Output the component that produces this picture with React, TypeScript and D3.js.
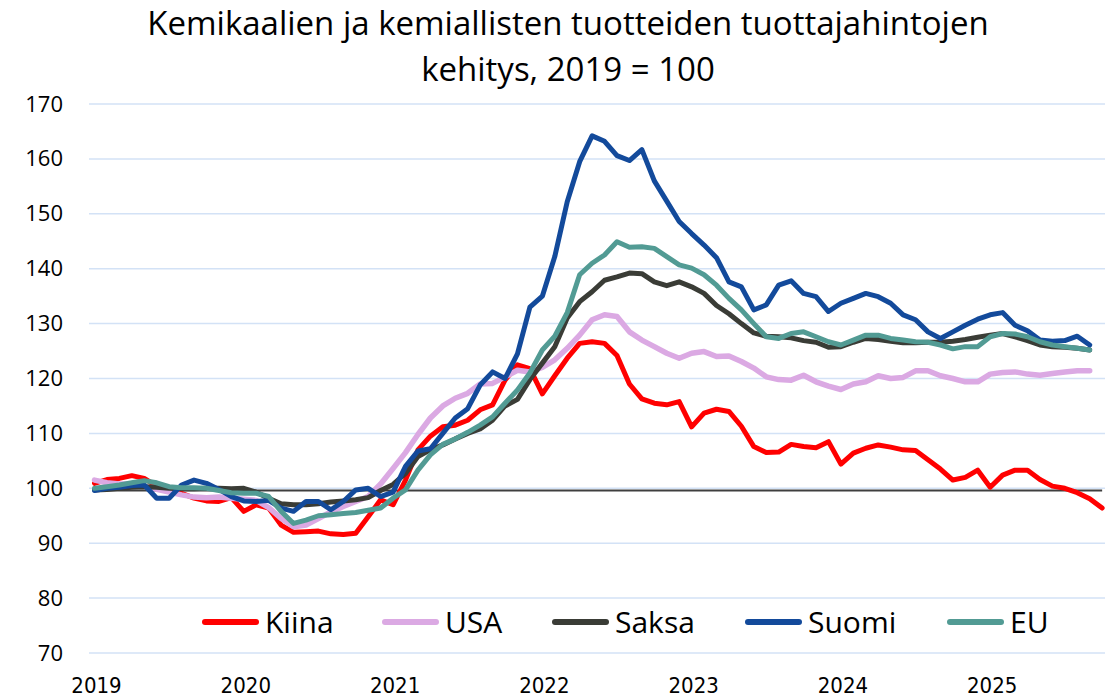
import React, { useEffect, useRef } from 'react';
import * as d3 from 'd3';

const WIDTH = 1114;
const HEIGHT = 699;

const MARGIN = {
  top: 104,
  right: 9,
  bottom: 46,
  left: 89,
};

const TITLE = ['Kemikaalien ja kemiallisten tuotteiden tuottajahintojen', 'kehitys, 2019 = 100'];

const YEARS = ['2019', '2020', '2021', '2022', '2023', '2024', '2025'];
const Y_TICKS = [70, 80, 90, 100, 110, 120, 130, 140, 150, 160, 170];

// kuukausittain, tammikuu 2019 alkaen
const kiina = [
  100.9, 101.6, 101.8, 102.3, 101.8, 100.4, 99.6, 99.1, 98.2, 97.7, 97.6, 98.3,
  95.8, 97.0, 96.4, 93.3, 92.0, 92.1, 92.2, 91.7, 91.6, 91.8, 94.8, 97.9,
  97.0, 101.5, 107.0, 109.5, 111.2, 111.5, 112.4, 114.3, 115.2, 119.7, 122.5, 121.8,
  117.2, 120.5, 123.7, 126.4, 126.7, 126.4, 124.2, 119.0, 116.3, 115.5, 115.2, 115.8,
  111.2, 113.7, 114.4, 114.0, 111.3, 107.6, 106.5, 106.6, 108.0, 107.6, 107.4, 108.5,
  104.4, 106.4, 107.3, 107.9, 107.5, 107.0, 106.9, 105.2, 103.5, 101.5, 102.0, 103.3,
  100.2, 102.4, 103.3, 103.3, 101.6, 100.4, 100.0, 99.2, 98.1, 96.4,
];

const usa = [
  101.5, 101.0, 100.8, 100.8, 100.3, 99.8, 99.3, 98.8, 98.4, 98.3, 98.4, 98.2,
  98.0, 97.8, 96.5, 94.5, 93.0, 93.3, 94.5, 95.7, 96.7, 97.6, 98.5, 100.8,
  103.6, 106.5, 109.8, 112.8, 115.0, 116.4, 117.3, 119.0, 119.1, 120.3, 121.5, 121.2,
  122.0, 123.4, 125.5, 127.9, 130.7, 131.6, 131.3, 128.5, 127.0, 125.8, 124.6, 123.7,
  124.6, 124.9, 124.0, 124.1, 123.1, 121.9, 120.3, 119.8, 119.7, 120.6, 119.4, 118.6,
  118.0, 119.0, 119.4, 120.5, 120.0, 120.2, 121.4, 121.4, 120.5, 120.0, 119.4, 119.4,
  120.8, 121.1, 121.2, 120.8, 120.6, 120.9, 121.2, 121.4, 121.4,
];

const saksa = [
  99.7, 99.8, 100.0, 100.2, 100.3, 100.2, 100.0, 99.9, 99.9, 100.0, 100.0, 99.9,
  100.0, 99.3, 98.2, 97.2, 97.0, 97.0, 97.2, 97.5, 97.7, 97.9, 98.3, 99.6,
  100.7, 102.7, 105.8, 107.0, 107.9, 109.0, 110.0, 110.8, 112.4, 115.0, 116.2, 119.8,
  122.8, 125.8, 131.0, 134.0, 135.8, 137.9, 138.5, 139.2, 139.1, 137.6, 136.9, 137.6,
  136.7, 135.5, 133.3, 131.8, 130.0, 128.3, 127.7, 127.6, 127.4, 126.9, 126.6, 125.7,
  125.8, 126.6, 127.3, 127.1, 126.8, 126.5, 126.5, 126.6, 126.6, 126.8, 127.1, 127.5,
  127.9, 128.2, 127.6, 126.9, 126.1, 125.8, 125.7, 125.5, 125.2,
];

const suomi = [
  99.6, 100.0, 100.2, 100.5, 100.6, 98.2, 98.2, 100.6, 101.5, 100.9, 99.8, 98.5,
  97.7, 97.6, 97.8, 96.4, 95.8, 97.6, 97.6, 96.1, 97.6, 99.7, 100.0, 98.5,
  99.3, 104.0, 106.8, 107.2, 110.0, 112.8, 114.5, 118.8, 121.2, 120.0, 124.5, 133.0,
  135.0, 142.2, 152.2, 159.5, 164.2, 163.2, 160.6, 159.7, 161.7, 156.0, 152.3, 148.6,
  146.4, 144.3, 142.0, 137.6, 136.7, 132.5, 133.4, 137.0, 137.8, 135.5, 134.9, 132.2,
  133.7, 134.6, 135.5, 134.9, 133.7, 131.6, 130.7, 128.5, 127.3, 128.5, 129.7, 130.8,
  131.6, 132.0, 129.7, 128.7, 127.0, 126.8, 126.9, 127.7, 126.1,
];

const eu = [
  100.0, 100.3, 100.6, 101.0, 101.4, 101.0, 100.3, 100.1, 100.1, 100.0, 99.6, 99.2,
  99.1, 99.1, 98.5, 95.8, 93.6, 94.2, 95.0, 95.2, 95.4, 95.6, 96.0, 96.4,
  98.2, 99.7, 103.3, 106.1, 108.0, 109.0, 110.2, 111.5, 113.0, 115.5, 117.9, 121.0,
  125.2, 127.7, 132.0, 138.9, 141.0, 142.5, 144.9, 143.9, 144.0, 143.7, 142.2, 140.7,
  140.1, 138.9, 137.0, 134.6, 132.5, 130.0, 127.6, 127.3, 128.2, 128.5, 127.6, 126.7,
  126.1, 127.0, 127.9, 127.9, 127.3, 127.0, 126.7, 126.6, 126.1, 125.4, 125.8, 125.8,
  127.6, 128.2, 128.1, 127.6, 126.7, 126.1, 125.8, 125.5, 125.2,
];

const BASE_VALUE = 99.6;
const MONTHS = kiina.length;

const SERIES = [
  { name: 'Kiina', values: kiina, color: '#ff0000', width: 5 },
  { name: 'USA', values: usa, color: '#dba9e3', width: 5.5 },
  { name: 'Saksa', values: saksa, color: '#3a3c36', width: 5 },
  { name: 'Suomi', values: suomi, color: '#134a9b', width: 5 },
  { name: 'EU', values: eu, color: '#529b94', width: 5 },
];

const LEGEND_X = [205, 385, 555, 748, 950];

const FONT = '"Open Sans", "Noto Sans", sans-serif';

export default function App() {
  const ref = useRef<SVGSVGElement>(null);

  useEffect(() => {
    if (!ref.current) {
      return;
    }
    const svg = d3.select(ref.current);
    svg.selectAll('*').remove();

    const x = d3.scaleLinear()
      .domain([0, MONTHS - 1])
      .range([94.5, 94.5 + 12.44 * (MONTHS - 1)]);

    const y = d3.scaleLinear()
      .domain([70, 170])
      .range([HEIGHT - MARGIN.bottom, MARGIN.top]);

    // otsikko
    svg.append('g')
      .selectAll('text')
      .data(TITLE)
      .enter()
      .append('text')
      .attr('x', 568)
      .attr('y', (d, i) => 35 + i * 46)
      .attr('text-anchor', 'middle')
      .attr('font-family', FONT)
      .attr('font-size', 33)
      .attr('fill', '#000')
      .text(d => d);

    // ruudukko
    svg.append('g')
      .selectAll('line')
      .data(Y_TICKS)
      .enter()
      .append('line')
      .attr('x1', MARGIN.left)
      .attr('x2', WIDTH - MARGIN.right)
      .attr('y1', d => y(d))
      .attr('y2', d => y(d))
      .attr('stroke', '#d3e2f6')
      .attr('stroke-width', 1.5);

    const yAxis = d3.axisLeft(y)
      .tickValues(Y_TICKS)
      .tickSize(0)
      .tickPadding(0);

    svg.append('g')
      .attr('transform', 'translate(63, 0)')
      .call(yAxis)
      .call(g => g.select('.domain').remove())
      .call(g => g.selectAll('text')
        .attr('font-family', FONT)
        .attr('font-size', 22)
        .attr('fill', '#000'));

    const yearIdx = YEARS.map((d, i) => i * 12);
    const xAxis = d3.axisBottom(x)
      .tickValues(yearIdx)
      .tickFormat((d, i) => YEARS[i])
      .tickSize(0)
      .tickPadding(0);

    svg.append('g')
      .attr('transform', 'translate(1.5, 0)')
      .call(xAxis)
      .call(g => g.select('.domain').remove())
      .call(g => g.selectAll('text')
        .attr('y', 693)
        .attr('dy', null)
        .attr('font-family', '"DejaVu Sans Condensed", "DejaVu Sans", sans-serif')
        .attr('font-stretch', 'condensed')
        .attr('font-size', 22)
        .attr('fill', '#000'));

    const line = d3.line<number>()
      .x((d, i) => x(i))
      .y(d => y(d));

    // 2019 = 100 viiva
    svg.append('path')
      .datum(d3.range(MONTHS).map(() => BASE_VALUE))
      .attr('d', line)
      .attr('fill', 'none')
      .attr('stroke', '#3f3f3f')
      .attr('stroke-width', 2);

    svg.append('g')
      .selectAll('path')
      .data(SERIES)
      .enter()
      .append('path')
      .attr('d', d => line(d.values))
      .attr('fill', 'none')
      .attr('stroke', d => d.color)
      .attr('stroke-width', d => d.width)
      .attr('stroke-linejoin', 'round')
      .attr('stroke-linecap', 'round');

    // selite
    const legend = svg.append('g')
      .selectAll('g')
      .data(SERIES)
      .enter()
      .append('g')
      .attr('transform', (d, i) => `translate(${LEGEND_X[i]}, 622)`);

    legend.append('line')
      .attr('x1', 0)
      .attr('x2', 51)
      .attr('stroke', d => d.color)
      .attr('stroke-width', 6)
      .attr('stroke-linecap', 'round');

    legend.append('text')
      .attr('x', 60)
      .attr('dy', '0.35em')
      .attr('font-family', FONT)
      .attr('font-size', 30)
      .attr('fill', '#000')
      .text(d => d.name);
  }, []);

  return (
    <svg
      ref={ref}
      width={WIDTH}
      height={HEIGHT}
      viewBox={`0 0 ${WIDTH} ${HEIGHT}`}
      style={{ position: 'absolute', left: 0, top: 0, background: '#fff' }}
    />
  );
}
